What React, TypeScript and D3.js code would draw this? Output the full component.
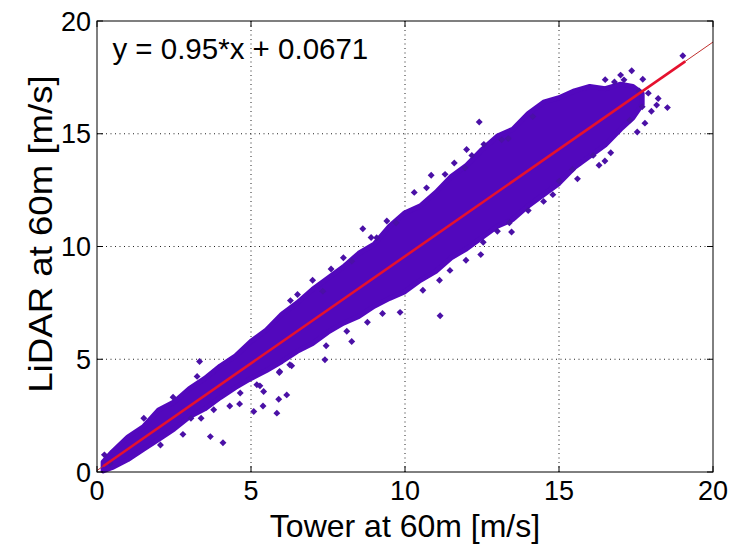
import React, { useEffect, useRef } from "react";
import * as d3 from "d3";

// dense part of the cloud: lower / upper edge
const bandX = [0.2, 0.5, 1, 1.5, 2, 2.5, 3, 3.5, 4, 4.5, 5, 5.5, 6, 6.5, 7, 7.5, 8, 8.5, 9, 9.5, 10, 10.5, 11, 11.5, 12, 12.5, 13, 13.5, 14, 14.5, 15, 15.5, 16, 16.5, 17, 17.4, 17.7];
const bandLow = [0.05, 0.2, 0.55, 1.0, 1.45, 1.9, 2.45, 2.8, 3.3, 3.75, 4.15, 4.5, 4.9, 5.35, 5.7, 6.2, 6.6, 6.9, 7.35, 7.7, 8.0, 8.5, 8.9, 9.5, 9.9, 10.4, 10.9, 11.2, 11.8, 12.3, 12.8, 13.5, 14.0, 14.5, 15.2, 15.7, 16.3];
const bandHigh = [0.45, 0.9, 1.55, 2.0, 2.75, 3.1, 3.7, 4.15, 4.7, 5.15, 5.8, 6.3, 7.0, 7.5, 8.1, 8.6, 9.1, 9.7, 10.1, 10.9, 11.5, 11.8, 12.4, 13.1, 13.6, 14.3, 14.9, 15.2, 15.9, 16.4, 16.6, 16.9, 17.1, 17.0, 17.2, 17.1, 16.8];

// scattered points outside / on the edge of the dense band [tower, lidar]
const scatterPoints: [number, number][] = [
  [0.43, 0.39], [0.24, 0.76], [1.52, 2.38], [2.06, 1.2], [2.47, 3.32], [2.79, 1.67], [3.05, 2.38],
  [3.25, 4.24], [3.33, 4.9], [3.38, 2.38], [3.68, 1.57], [3.79, 2.76], [4.09, 1.3], [4.31, 2.93],
  [4.63, 3.02], [4.65, 3.5], [5.09, 2.68], [5.19, 3.87], [5.29, 3.82], [5.39, 2.93], [5.41, 3.57],
  [5.84, 2.61], [5.9, 3.23], [5.93, 4.46], [6.16, 3.42], [6.26, 4.76], [6.28, 7.6], [5.92, 4.41],
  [6.32, 4.71], [6.51, 7.87], [7.33, 8.02], [7.4, 4.98], [7.44, 5.6], [8.11, 6.24], [8.27, 5.79],
  [8.27, 9.35], [8.63, 10.79], [8.78, 6.64], [9.08, 10.39], [9.27, 7.03], [9.41, 11.13], [9.71, 11.05],
  [9.84, 7.08], [10.58, 8.06], [10.85, 13.16], [11.14, 6.93], [11.12, 8.5], [11.46, 8.94], [11.95, 13.49],
  [11.98, 9.39], [12.17, 14.04], [12.41, 15.52], [12.46, 9.64], [12.54, 10.19], [12.56, 14.53], [13.0, 10.68],
  [13.14, 14.73], [13.35, 14.79], [13.39, 11.05], [13.46, 10.64], [14.15, 15.76], [15.01, 12.9], [15.44, 13.42],
  [16.11, 14.04], [16.49, 13.79], [16.68, 14.16], [17.11, 17.39], [17.36, 17.79], [17.54, 15.08], [17.72, 17.42],
  [17.79, 15.47], [18.17, 16.27], [18.22, 16.56], [18.52, 16.16], [19.02, 18.46],
  [16.8, 17.3], [17.0, 17.6], [16.5, 17.4], [17.6, 16.9], [17.9, 16.8], [18.0, 16.0], [17.3, 15.6], [17.7, 16.2],
  [14.5, 12.0], [14.0, 11.6], [15.6, 13.0], [16.3, 13.6], [14.8, 12.3],
  [10.3, 12.4], [10.7, 12.6], [11.3, 13.2], [11.6, 13.7], [12.0, 14.3],
  [7.0, 8.5], [7.6, 9.0], [8.0, 9.5], [8.9, 10.4],
];

const fitSlope = 0.95;
const fitIntercept = 0.0671;
const fitThickX = [0.2, 19.1];
const fitThinX = [0, 20];

const xTicks = [0, 5, 10, 15, 20];
const yTicks = [0, 5, 10, 15, 20];

const App = () => {
  const svgRef = useRef<SVGSVGElement>(null);

  useEffect(() => {
    const width = 739;
    const height = 548;
    const margin = { top: 21, right: 26, bottom: 76, left: 97 };
    const innerW = width - margin.left - margin.right;
    const innerH = height - margin.top - margin.bottom;
    const font = "'Liberation Sans', Arial, sans-serif";

    const svg = d3.select(svgRef.current);
    svg.selectAll("*").remove();
    svg.attr("width", width).attr("height", height);

    svg.append("rect").attr("width", width).attr("height", height).attr("fill", "#fff");

    const g = svg.append("g").attr("transform", `translate(${margin.left},${margin.top})`);

    const x = d3.scaleLinear().domain([0, 20]).range([0, innerW]);
    const y = d3.scaleLinear().domain([0, 20]).range([innerH, 0]);

    // grid
    const grid = g.append("g").attr("stroke", "#222").attr("stroke-width", 1).attr("stroke-dasharray", "1,3.5");
    xTicks.slice(1, -1).forEach(t => {
      grid.append("line").attr("x1", x(t)).attr("x2", x(t)).attr("y1", 0).attr("y2", innerH);
    });
    yTicks.slice(1, -1).forEach(t => {
      grid.append("line").attr("x1", 0).attr("x2", innerW).attr("y1", y(t)).attr("y2", y(t));
    });

    // dense cloud
    const bandData = bandX.map((v, i) => ({ x: v, lo: bandLow[i], hi: bandHigh[i] }));
    const area = d3.area<{ x: number; lo: number; hi: number }>()
      .x(d => x(d.x))
      .y0(d => y(d.lo))
      .y1(d => y(d.hi));

    const purple = "#5208bd";
    g.append("path")
      .datum(bandData)
      .attr("d", area)
      .attr("fill", purple)
      .attr("stroke", purple)
      .attr("stroke-width", 5)
      .attr("stroke-linejoin", "round");

    // single points
    const sym = d3.symbol().type(d3.symbolSquare).size(24);
    g.append("g")
      .selectAll("path")
      .data(scatterPoints)
      .join("path")
      .attr("d", sym)
      .attr("transform", d => `translate(${x(d[0])},${y(d[1])}) rotate(45)`)
      .attr("fill", "#4a10a6");

    // fit line
    const line = d3.line<number>().x(d => x(d)).y(d => y(fitSlope * d + fitIntercept));
    g.append("path").datum(fitThinX).attr("d", line)
      .attr("stroke", "#c0302e").attr("stroke-width", 1).attr("fill", "none");
    g.append("path").datum(fitThickX).attr("d", line)
      .attr("stroke", "#e5112e").attr("stroke-width", 2.6).attr("fill", "none");

    // box + inward ticks
    g.append("rect").attr("width", innerW).attr("height", innerH)
      .attr("fill", "none").attr("stroke", "#000").attr("stroke-width", 1);
    const tk = g.append("g").attr("stroke", "#000").attr("stroke-width", 1);
    const tl = 6;
    xTicks.forEach(t => {
      tk.append("line").attr("x1", x(t)).attr("x2", x(t)).attr("y1", innerH).attr("y2", innerH - tl);
      tk.append("line").attr("x1", x(t)).attr("x2", x(t)).attr("y1", 0).attr("y2", tl);
    });
    yTicks.forEach(t => {
      tk.append("line").attr("x1", 0).attr("x2", tl).attr("y1", y(t)).attr("y2", y(t));
      tk.append("line").attr("x1", innerW).attr("x2", innerW - tl).attr("y1", y(t)).attr("y2", y(t));
    });

    // tick labels
    const fs = 27;
    g.append("g").selectAll("text").data(xTicks).join("text")
      .attr("x", d => x(d)).attr("y", innerH + 8).attr("dy", "0.75em")
      .attr("text-anchor", "middle").attr("font-family", font).attr("font-size", fs)
      .text(d => d);
    g.append("g").selectAll("text").data(yTicks).join("text")
      .attr("x", -6).attr("y", d => y(d)).attr("dy", "0.36em")
      .attr("text-anchor", "end").attr("font-family", font).attr("font-size", fs)
      .text(d => d);

    // axis titles
    g.append("text")
      .attr("x", innerW / 2).attr("y", innerH + 65)
      .attr("text-anchor", "middle").attr("font-family", font).attr("font-size", 32)
      .text("Tower at 60m [m/s]");
    g.append("text")
      .attr("transform", `translate(${-45},${213}) rotate(-90) scale(1.11,1)`)
      .attr("text-anchor", "middle").attr("font-family", font).attr("font-size", 33)
      .text("LiDAR at 60m [m/s]");

    // equation
    g.append("text")
      .attr("x", x(0.5)).attr("y", y(18.8)).attr("dy", "0.36em")
      .attr("font-family", font).attr("font-size", 29.5)
      .text(`y = ${fitSlope}*x + ${fitIntercept}`);
  }, []);

  return <svg ref={svgRef} style={{ position: "absolute", left: 0, top: 0 }} />;
};

export default App;
